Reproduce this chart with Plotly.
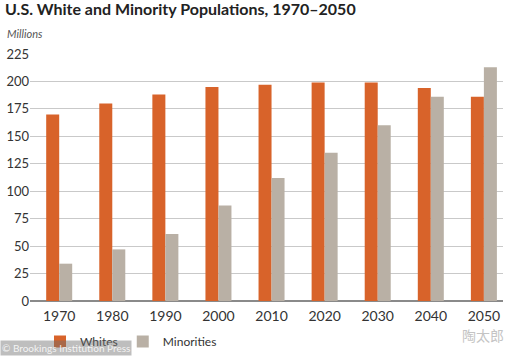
import plotly.graph_objects as go

years = ["1970", "1980", "1990", "2000", "2010", "2020", "2030", "2040", "2050"]
whites = [170, 180, 188, 195, 197, 199, 199, 194, 186]
minorities = [34, 47, 61, 87, 112, 135, 160, 186, 213]
y_ticks = [0, 25, 50, 75, 100, 125, 150, 175, 200, 225]

ORANGE = "#D8632A"
GRAY = "#B9B0A5"
FONT = "Lato"

W, H = 523, 356
L, R, T, B = 30, 20, 54, 55
PW, PH = W - L - R, H - T - B


def px_x(px):
    return (px - L) / PW


def px_y(py):
    return (H - B - py) / PH


fig = go.Figure()
fig.add_trace(go.Bar(x=years, y=whites, name="Whites", marker=dict(color=ORANGE, line=dict(width=0))))
fig.add_trace(go.Bar(x=years, y=minorities, name="Minorities", marker=dict(color=GRAY, line=dict(width=0))))

fig.update_layout(
    width=W, height=H,
    margin=dict(l=L, r=R, t=T, b=B, autoexpand=False),
    paper_bgcolor="white", plot_bgcolor="white",
    barmode="group", bargap=0.51, bargroupgap=0,
    font=dict(family=FONT, color="#333333", size=13),
    title=dict(text="<b>U.S. White and Minority Populations, 1970–2050</b>",
               x=5/W, xanchor="left", xref="container",
               y=1-9/H, yanchor="middle", yref="container",
               font=dict(family=FONT, size=16, color="#222222")),
    showlegend=True,
    legend=dict(orientation="h", xref="container", yref="container",
                x=40/W, xanchor="left", y=0, yanchor="bottom",
                font=dict(size=12, color="#333333"), itemwidth=30,
                traceorder="normal", bgcolor="rgba(0,0,0,0)"),
    xaxis=dict(type="category", range=[-0.55, 8.36], showgrid=False, automargin=False,
               ticks="outside", ticklen=2, tickcolor="rgba(0,0,0,0)",
               tickfont=dict(size=14, color="#333333"), showline=False, zeroline=False),
    yaxis=dict(range=[0, 225], tickvals=y_ticks, showgrid=True, gridcolor="#C9C9C9",
               automargin=False,
               gridwidth=1, zeroline=True, zerolinecolor="#8A8A8A", zerolinewidth=1.5,
               tickfont=dict(size=13, color="#333333"), ticks="", showline=False),
    annotations=[
        dict(text="<i>Millions</i>", xref="paper", yref="paper", x=px_x(5),
             xanchor="left", y=px_y(34), yanchor="middle", showarrow=False,
             font=dict(size=11, color="#555555")),
        dict(text="陶太郎", xref="paper", yref="paper", x=px_x(506), xanchor="right",
             y=px_y(335), yanchor="middle", showarrow=False,
             font=dict(family="Noto Sans CJK SC", size=14, color="#C4C4C4")),
        dict(text="© Brookings Institution Press", xref="paper", yref="paper",
             x=px_x(0), xanchor="left", y=px_y(356), yanchor="bottom", showarrow=False,
             bgcolor="rgba(110,110,110,0.45)", borderpad=1,
             font=dict(size=10, color="rgba(255,255,255,0.85)")),
    ],
)

fig.write_html("out.html", config={"displayModeBar": False},
               post_script="document.body.style.margin='0';")
